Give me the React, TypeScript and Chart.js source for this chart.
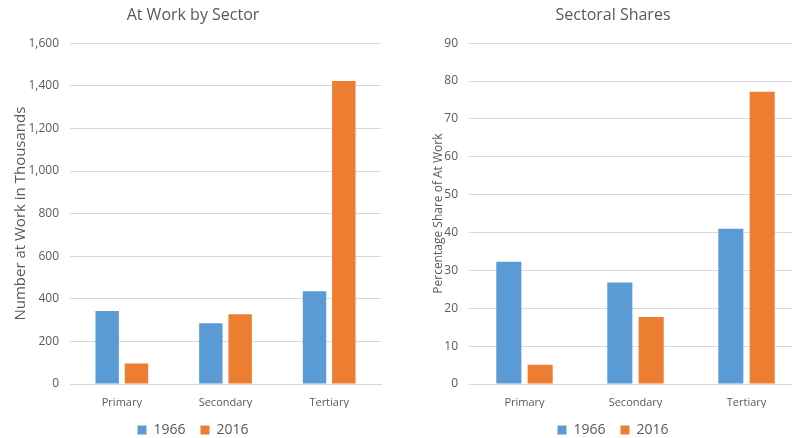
import React, { useEffect, useRef } from "react";
import { Chart, registerables } from "chart.js";

Chart.register(...registerables);

const categories = ["Primary", "Secondary", "Tertiary"];
const seriesLabels = ["1966", "2016"];
const atWork1966 = [343, 285, 435];
const atWork2016 = [96, 328, 1423];
const share1966 = [32.3, 26.8, 41.0];
const share2016 = [5.1, 17.7, 77.2];

const BLUE = "#5B9BD5";
const ORANGE = "#ED7D31";
const TEXT = "#595959";
const GRID = "#D9D9D9";
const FONT = "'Open Sans', sans-serif";

function makeConfig(
  title: string,
  yTitle: string,
  yTitleSize: number,
  yTitleShift: number,
  d1: number[],
  d2: number[],
  max: number,
  step: number,
  yWidth: number,
  rightSpace: number
): any {
  return {
    type: "bar",
    data: {
      labels: categories,
      datasets: [
        { label: seriesLabels[0], data: d1, backgroundColor: BLUE, categoryPercentage: 0.565, barPercentage: 0.8 },
        { label: seriesLabels[1], data: d2, backgroundColor: ORANGE, categoryPercentage: 0.565, barPercentage: 0.8 },
      ],
    },
    options: {
      responsive: false,
      animation: false,
      devicePixelRatio: 1,
      layout: { padding: { top: 3, right: 0, left: 0, bottom: -9 } },
      plugins: {
        title: {
          display: true,
          text: title,
          color: TEXT,
          font: { family: FONT, size: 16, weight: "normal" },
          padding: { top: 3, bottom: 18 },
        },
        legend: {
          position: "bottom",
          labels: {
            color: TEXT,
            font: { family: FONT, size: 14 },
            boxWidth: 9,
            boxHeight: 9,
            padding: 15,
          },
        },
        tooltip: { enabled: false },
      },
      scales: {
        x: {
          grid: { display: false, drawTicks: false },
          border: { color: GRID },
          ticks: { color: TEXT, font: { family: FONT, size: 11 }, padding: 12 },
          afterFit: (s: any) => {
            s.height = 24;
          },
        },
        y: {
          min: 0,
          max: max,
          grid: { color: GRID, drawTicks: false },
          border: { display: false },
          ticks: {
            stepSize: step,
            color: TEXT,
            font: { family: FONT, size: 12 },
            padding: 11,
            callback: (v: any) => Number(v).toLocaleString("en-US"),
          },
          title: {
            display: true,
            text: yTitle,
            color: TEXT,
            font: { family: FONT, size: yTitleSize },
            padding: { top: yTitleShift, bottom: 0 },
          },
          afterFit: (s: any) => {
            s.width = yWidth;
          },
        },
        spacer: {
          position: "right",
          display: true,
          grid: { display: false, drawTicks: false },
          border: { display: false },
          ticks: { display: false },
          afterFit: (s: any) => {
            s.width = rightSpace;
          },
        },
      },
    },
  };
}

function ChartCanvas({ cfg, left, width }: { cfg: any; left: number; width: number }) {
  const ref = useRef<HTMLCanvasElement | null>(null);
  useEffect(() => {
    if (!ref.current) return;
    const c = new Chart(ref.current, cfg);
    return () => c.destroy();
  }, []);
  return (
    <canvas
      ref={ref}
      width={width}
      height={438}
      style={{ position: "absolute", left, top: 0, width, height: 438 }}
    />
  );
}

export default function App() {
  const leftCfg = makeConfig("At Work by Sector", "Number at Work in Thousands", 15, 12, atWork1966, atWork2016, 1600, 200, 70, 5);
  const rightCfg = makeConfig("Sectoral Shares", "Percentage Share of At Work", 12, 31, share1966, share2016, 90, 10, 69, 24);
  return (
    <div style={{ position: "fixed", left: 0, top: 0, width: 792, height: 438, overflow: "hidden", background: "#fff" }}>
      <ChartCanvas cfg={leftCfg} left={0} width={386} />
      <ChartCanvas cfg={rightCfg} left={400} width={426} />
    </div>
  );
}
